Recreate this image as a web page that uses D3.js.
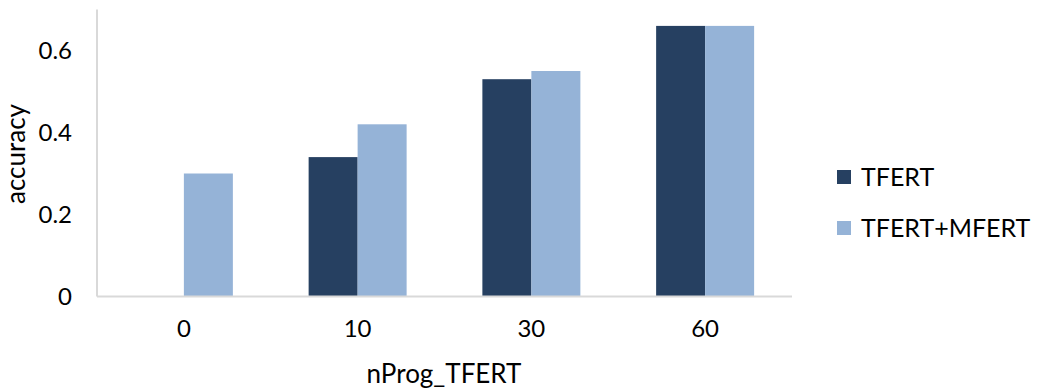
<!DOCTYPE html>
<html><head><meta charset="utf-8">
<script src="https://cdn.jsdelivr.net/npm/d3@7"></script>
<style>body{margin:0;background:#fff;} text{font-family:Lato, "Open Sans", sans-serif; fill:#000;}</style>
</head><body>
<svg id="c" width="1047" height="388"></svg>
<script>
const categories = ["0", "10", "30", "60"];
const seriesNames = ["TFERT", "TFERT+MFERT"];
const tfert = [null, 0.34, 0.53, 0.66];
const tfertMfert = [0.30, 0.42, 0.55, 0.66];
const yTicks = [0, 0.2, 0.4, 0.6];
const colors = ["#264061", "#95B3D7"];

const svg = d3.select("#c");
const m = {left: 97, right: 792, top: 9.5, bottom: 296.5};
const x = d3.scaleBand().domain(categories).range([m.left, m.right]).padding(0);
const gapFrac = 0.218;
const xs = d3.scaleBand().domain(seriesNames)
  .range([x.bandwidth()*gapFrac, x.bandwidth()*(1-gapFrac)]).padding(0);
const y = d3.scaleLinear().domain([0, 0.7]).range([m.bottom, m.top]);

const rows = categories.map((c, i) => ({c, vals: [tfert[i], tfertMfert[i]]}));
const g = svg.append("g");
rows.forEach(r => {
  r.vals.forEach((v, j) => {
    if (v == null) return;
    g.append("rect")
      .attr("x", x(r.c) + xs(seriesNames[j]))
      .attr("width", xs.bandwidth())
      .attr("y", y(v))
      .attr("height", y(0) - y(v))
      .attr("fill", colors[j]);
  });
});

// axes
const yAxis = svg.append("g").attr("transform", `translate(${m.left},0)`)
  .call(d3.axisLeft(y).tickValues(yTicks).tickSize(0).tickPadding(25).tickFormat(d => d === 0 ? "0" : d3.format(".1f")(d)));
yAxis.select(".domain").remove();
yAxis.selectAll("text").style("font-size", "24px").attr("fill", "#000");
svg.append("line").attr("x1", m.left).attr("x2", m.left).attr("y1", m.top).attr("y2", m.bottom)
  .attr("stroke", "#d9d9d9").attr("stroke-width", 2);

const xAxis = svg.append("g").attr("transform", `translate(0,${m.bottom})`)
  .call(d3.axisBottom(x).tickSize(0).tickPadding(23));
xAxis.select(".domain").remove();
xAxis.selectAll("text").style("font-size", "24px").attr("fill", "#000");
svg.append("line").attr("x1", m.left).attr("x2", m.right).attr("y1", m.bottom).attr("y2", m.bottom)
  .attr("stroke", "#d9d9d9").attr("stroke-width", 2);

svg.append("text").attr("x", 444).attr("y", 383)
  .attr("text-anchor", "middle").style("font-size", "26px").text("nProg_TFERT");
svg.append("text").attr("transform", "translate(25,154) rotate(-90)")
  .attr("text-anchor", "middle").style("font-size", "26px").text("accuracy");

// legend
const leg = svg.append("g").attr("transform", "translate(837,0)");
seriesNames.forEach((s, i) => {
  const yy = 177 + i * 51;
  leg.append("rect").attr("x", 0).attr("y", yy - 7).attr("width", 14).attr("height", 14).attr("fill", colors[i]);
  leg.append("text").attr("x", 24).attr("y", yy).attr("dy", "0.35em").style("font-size", "25px").text(s);
});
</script>
</body></html>
